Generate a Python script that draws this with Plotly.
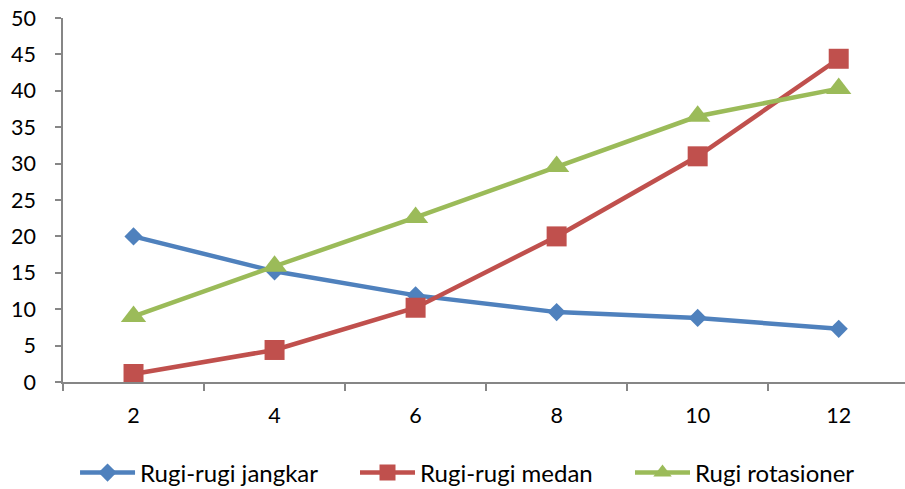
import plotly.graph_objects as go

# Loss components versus x
x_vals = [2, 4, 6, 8, 10, 12]
rugi_jangkar = [20.0, 15.2, 11.9, 9.6, 8.8, 7.3]
rugi_medan = [1.1, 4.4, 10.2, 20.0, 31.0, 44.4]
rugi_rotasioner = [9.0, 15.9, 22.6, 29.6, 36.5, 40.3]

y_ticks = list(range(0, 55, 5))

series = [
    ("Rugi-rugi jangkar", rugi_jangkar, "#4F81BD", "diamond", 14, "legend", 0.0143),
    ("Rugi-rugi medan", rugi_medan, "#C0504D", "square", 20, "legend2", 0.3468),
    ("Rugi rotasioner", rugi_rotasioner, "#9BBB59", "triangle-up", 22, "legend3", 0.6734),
]

legend_font = dict(family="Lato, sans-serif", size=24, color="#000000")

fig = go.Figure()
legends = {}
for name, vals, color, sym, size, leg, lx in series:
    fig.add_trace(go.Scatter(
        x=x_vals, y=vals, name=name, mode="lines+markers",
        line=dict(color=color, width=4.5),
        marker=dict(color=color, symbol=sym, size=size, line=dict(width=0)),
        legend=leg,
    ))
    legends[leg] = dict(
        orientation="h", x=lx, xanchor="left", y=-0.25, yanchor="middle",
        font=legend_font, bgcolor="rgba(0,0,0,0)", itemwidth=55,
    )

axis_font = dict(family="Lato, sans-serif", size=21.5, color="#000000")

fig.update_layout(
    width=905, height=489,
    margin=dict(l=63, r=0, t=18, b=107, autoexpand=False),
    paper_bgcolor="white", plot_bgcolor="white",
    showlegend=True,
    xaxis=dict(
        range=[1.0, 12.94], tickvals=x_vals, ticktext=[str(v) for v in x_vals],
        ticks="", showgrid=False, zeroline=False,
        showline=True, linecolor="#868686", linewidth=1.5,
        tickfont=axis_font, ticklabelstandoff=13,
        minor=dict(tick0=1, dtick=2, ticks="outside", ticklen=7, tickcolor="#868686", tickwidth=1.5, showgrid=False),
    ),
    yaxis=dict(
        range=[0, 50], tickvals=y_ticks, ticks="outside", ticklen=6,
        tickcolor="#868686", tickwidth=1.5,
        showgrid=False, zeroline=False,
        showline=True, linecolor="#868686", linewidth=1.5,
        tickfont=axis_font, ticklabelstandoff=15,
    ),
    **legends,
)

fig.write_html("out.html")
